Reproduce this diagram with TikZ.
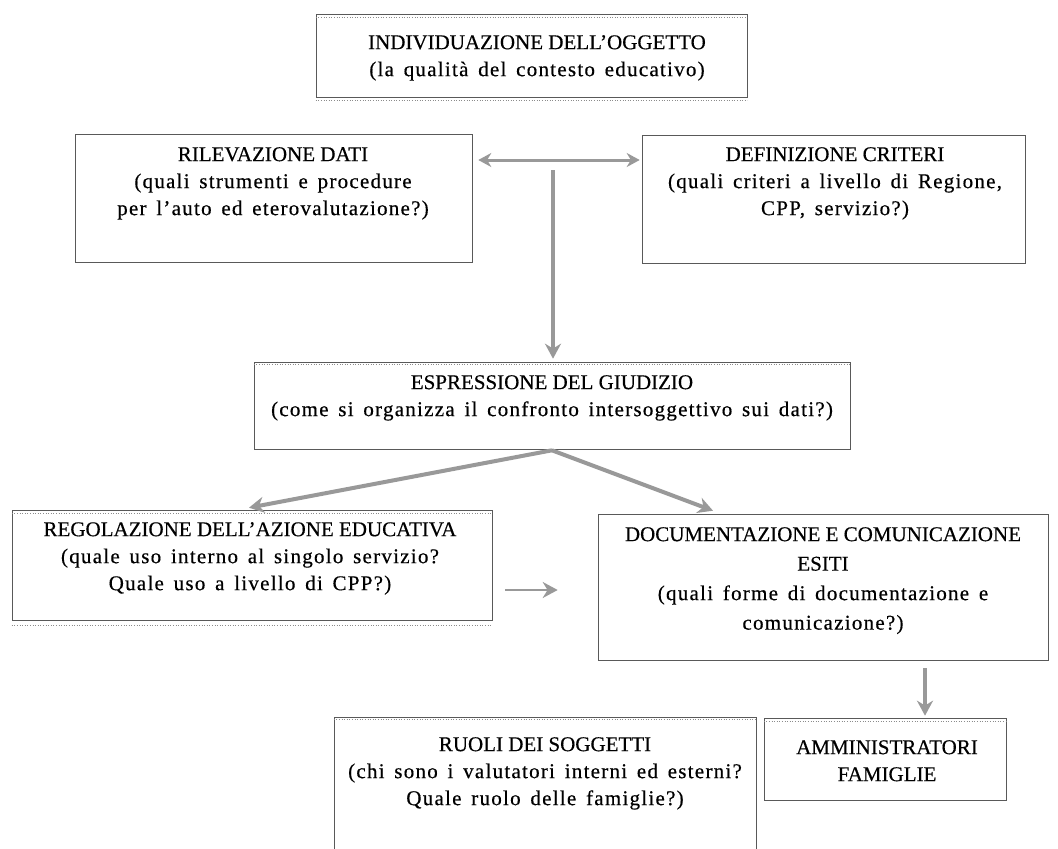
\documentclass[tikz,border=0pt]{standalone}
\usepackage{fontspec}
\setmainfont{Liberation Serif}[FakeBold=0.4]
\newfontfamily\lc{Liberation Serif}[FakeBold=0.4, LetterSpace=6, WordSpace=1.5]
\usetikzlibrary{arrows.meta,calc}
\begin{document}
\begin{tikzpicture}[x=1pt,y=-1pt,
  box/.style={draw=black!65, line width=0.6pt, inner sep=0pt},
  txt/.style={align=center, font=\fontsize{21}{27}\selectfont, inner sep=0pt, anchor=north, text=black},
  arr/.style={draw=black!40, line width=4pt, -{Stealth[length=15pt,width=16pt]}},
  darr/.style={draw=black!40, line width=3pt, {Stealth[length=13pt,width=14pt]}-{Stealth[length=13pt,width=14pt]}},
  dots/.style={draw=black!45, line width=0.6pt, dotted},
]
\useasboundingbox[fill=white] (0,0) rectangle (1058,849);

% boxes
\node[box, minimum width=431pt, minimum height=83pt] (ind) at (531.5,55.5) {};
\node[box, minimum width=397pt, minimum height=128pt] (ril) at (273.5,198) {};
\node[box, minimum width=383pt, minimum height=128pt] (def) at (833.5,199) {};
\node[box, minimum width=596pt, minimum height=87pt] (esp) at (552,405.5) {};
\node[box, minimum width=480pt, minimum height=110pt] (reg) at (252,565) {};
\node[box, minimum width=450pt, minimum height=146pt] (doc) at (823,587) {};
\node[box, minimum width=242pt, minimum height=82pt] (amm) at (885,759) {};
\node[box, minimum width=422pt, minimum height=132pt] (ruo) at (545,783) {};

% dotted inner lines
\draw[dots] ([yshift=-4pt]ind.north west) -- ([yshift=-4pt]ind.north east);
\draw[dots] ([yshift=-3pt]ind.south west) -- ([yshift=-3pt]ind.south east);
\draw[dots] ([yshift=-4pt]reg.north west) -- ([yshift=-4pt]reg.north east);
\draw[dots] ([yshift=-5pt]reg.south west) -- ([yshift=-5pt]reg.south east);
\draw[dots] ([yshift=-3pt]esp.north west) -- ([yshift=-3pt]esp.north east);
\draw[dots] ([yshift=-3pt]ruo.north west) -- ([yshift=-3pt]ruo.north east);
\draw[dots] ([yshift=-4pt]amm.north west) -- ([yshift=-4pt]amm.north east);

% texts
\node[txt] (tind) at (537,35) {INDIVIDUAZIONE DELL’OGGETTO\\{\lc (la qualità del contesto educativo)}};
\node[txt] (tril) at (273,147) {RILEVAZIONE DATI\\{\lc (quali strumenti e procedure}\\{\lc per l’auto ed eterovalutazione?)}};
\node[txt] (tdef) at (835,147) {DEFINIZIONE CRITERI\\{\lc (quali criteri a livello di Regione,}\\{\lc CPP, servizio?)}};
\node[txt] (tesp) at (552,375) {ESPRESSIONE DEL GIUDIZIO\\{\lc (come si organizza il confronto intersoggettivo sui dati?)}};
\node[txt] (treg) at (250,522) {REGOLAZIONE DELL’AZIONE EDUCATIVA\\{\lc (quale uso interno al singolo servizio?}\\{\lc Quale uso a livello di CPP?)}};
\node[txt, font=\fontsize{21}{29.5}\selectfont] (tdoc) at (823,527) {DOCUMENTAZIONE E COMUNICAZIONE\\ESITI\\{\lc (quali forme di documentazione e}\\{\lc comunicazione?)}};
\node[txt] (tamm) at (887,740) {AMMINISTRATORI\\FAMIGLIE};
\node[txt] (truo) at (545,737) {RUOLI DEI SOGGETTI\\{\lc (chi sono i valutatori interni ed esterni?}\\{\lc Quale ruolo delle famiglie?)}};

% connectors
\coordinate (j) at (553,170);
\draw[darr] ([xshift=6pt,yshift=38pt]ril.east) -- ([xshift=-2pt,yshift=39pt]def.west);
\draw[arr] (j) -- ([xshift=1pt,yshift=3pt]esp.north);
\draw[arr] ([yshift=-1pt]esp.south) -- ([xshift=-3pt,yshift=2pt]reg.north);
\draw[arr] ([yshift=-1pt]esp.south) -- ([xshift=-110pt,yshift=3pt]doc.north);
\draw[arr, line width=2.5pt] ([xshift=13pt,yshift=-25pt]reg.east) -- ([xshift=-40pt,yshift=-3pt]doc.west);
\draw[arr] ([xshift=102pt,yshift=-8pt]doc.south) -- ([xshift=40pt,yshift=2pt]amm.north);
\end{tikzpicture}
\end{document}
